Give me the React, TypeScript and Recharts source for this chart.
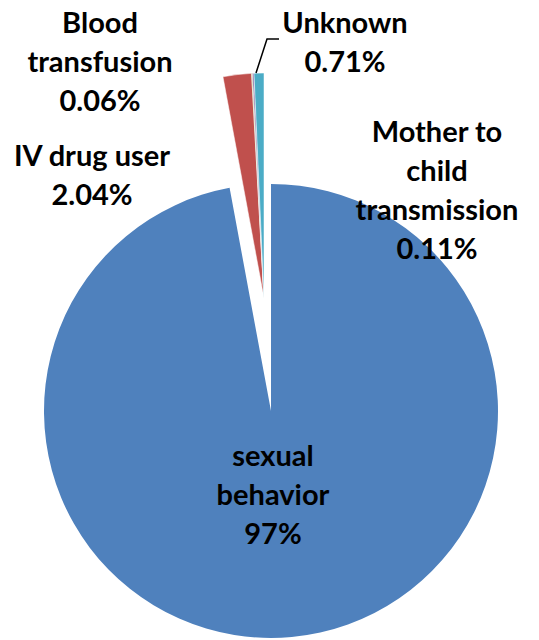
import { Cell, Pie, PieChart } from "recharts";

const categories = ["sexual behavior", "IV drug user", "Blood transfusion", "Mother to child transmission", "Unknown"];
const shares = [97.08, 2.04, 0.06, 0.11, 0.71];
const shareLabels = ["97%", "2.04%", "0.06%", "0.11%", "0.71%"];
const labelLines = [
  ["sexual", "behavior"],
  ["IV drug user"],
  ["Blood", "transfusion"],
  ["Mother to", "child", "transmission"],
  ["Unknown"],
];
const colors = ["#4F81BD", "#C0504D", "#9BBB59", "#8064A2", "#4BACC6"];

// where each label block sits (center x, first line y)
const labelLayout = [
  { x: 273, y: 454 },
  { x: 92, y: 154 },
  { x: 100, y: 21 },
  { x: 437, y: 130 },
  { x: 345, y: 21 },
];

const data = categories.map((name, i) => ({ name, value: shares[i] }));

const font = "Lato, 'Liberation Sans', sans-serif";

function renderLabel(main: boolean) {
  return (p: any) => {
    const i = p.index;
    if (main ? i !== 0 : i === 0) return null;
    const pos = labelLayout[i];
    const lines = [...labelLines[i], shareLabels[i]];
    return (
      <g key={`lab-${i}`}>
        {i === 4 && (
          <polyline points="256,73 267,39 279,39" fill="none" stroke="#000" strokeWidth={1.5} />
        )}
        <text x={pos.x} textAnchor="middle" fontFamily={font} fontWeight={700} fontSize={29} fill="#000">
          {lines.map((t, k) => (
            <tspan key={k} x={pos.x} y={pos.y + k * 39} dominantBaseline="central">
              {t}
            </tspan>
          ))}
        </text>
      </g>
    );
  };
}

export default function App() {
  return (
    <div style={{ position: "absolute", left: 0, top: 0, background: "#fff" }}>
      <PieChart width={539} height={640} margin={{ top: 0, right: 0, bottom: 0, left: 0 }}>
        <Pie
          data={data}
          dataKey="value"
          cx={271}
          cy={411}
          outerRadius={227}
          startAngle={90}
          endAngle={-270}
          stroke="none"
          label={renderLabel(true)}
          labelLine={false}
          isAnimationActive={false}
        >
          {data.map((d, i) => (
            <Cell key={d.name} fill={i === 0 ? colors[i] : "none"} />
          ))}
        </Pie>
        <Pie
          data={data}
          dataKey="value"
          cx={264}
          cy={298}
          outerRadius={225}
          startAngle={90}
          endAngle={-270}
          label={renderLabel(false)}
          labelLine={false}
          isAnimationActive={false}
        >
          {data.map((d, i) => (
            <Cell
              key={d.name}
              fill={i === 0 ? "none" : colors[i]}
              stroke={i === 0 ? "none" : "#fff"}
              strokeWidth={0.5}
            />
          ))}
        </Pie>
      </PieChart>
    </div>
  );
}
